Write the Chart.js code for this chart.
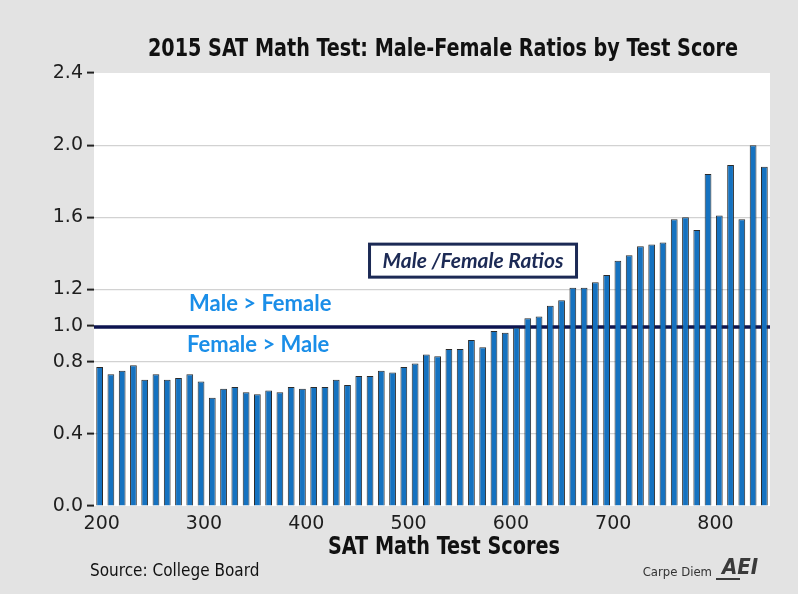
<!DOCTYPE html>
<html>
<head>
<meta charset="utf-8">
<script src="https://cdn.jsdelivr.net/npm/chart.js@4/dist/chart.umd.min.js"></script>
<style>
  html, body { margin: 0; padding: 0; background: #e3e3e3; }
  #wrap { width: 798px; height: 594px; }
</style>
</head>
<body>
<div id="wrap"><canvas id="grafico" width="798" height="594"></canvas></div>
<script>
// SAT math score buckets (one bar each)
const scores = [
  200, 210, 220, 230, 240, 250, 260, 270, 280, 290,
  300, 310, 320, 330, 340, 350, 360, 370, 380, 390,
  400, 410, 420, 430, 440, 450, 460, 470, 480, 490,
  500, 510, 520, 530, 540, 550, 560, 570, 580, 590,
  600, 610, 620, 630, 640, 650, 660, 670, 680, 690,
  700, 710, 720, 730, 740, 750, 760, 770, 780, 790
];

// male / female ratio
const ratios = [
  0.77, 0.73, 0.75, 0.78, 0.70, 0.73, 0.70, 0.71, 0.73, 0.69,
  0.60, 0.65, 0.66, 0.63, 0.62, 0.64, 0.63, 0.66, 0.65, 0.66,
  0.66, 0.70, 0.67, 0.72, 0.72, 0.75, 0.74, 0.77, 0.79, 0.84,
  0.83, 0.87, 0.87, 0.92, 0.88, 0.97, 0.96, 0.99, 1.04, 1.05,
  1.11, 1.14, 1.21, 1.21, 1.24, 1.28, 1.36, 1.39, 1.44, 1.45,
  1.46, 1.59, 1.60, 1.53, 1.84, 1.61, 1.89, 1.59, 2.00, 1.88
];

const yTicks = [0.0, 0.4, 0.8, 1.0, 1.2, 1.6, 2.0, 2.4];
const yGridLines = [0.4, 0.8, 1.2, 1.6, 2.0];
const xTicks = [200, 300, 400, 500, 600, 700, 800];
const linhaParidade = 1.0;

const corFundo = "#e3e3e3";
const corBarra = "#1572c0";
const corNavy = "#0d1450";
const corAzulTexto = "#1a8ee8";
const corTexto = "#1e1e1e";
const condensada = '"Liberation Sans Narrow", "DejaVu Sans Condensed", "Roboto", sans-serif';

/* texto comprimido para caber numa largura */
function textoAjustado(ctx, txt, cx, cy, largura) {
  const w = ctx.measureText(txt).width;
  const k = Math.min(1, largura / w);
  ctx.save();
  ctx.translate(cx, cy);
  ctx.scale(k, 1);
  ctx.fillText(txt, 0, 0);
  ctx.restore();
}

/* ======================================================
   PLUGIN: fundo cinza + area branca
   ====================================================== */
const fundoPlugin = {
  id: "fundo",
  beforeDraw(chart) {
    const { ctx, chartArea: a } = chart;
    ctx.save();
    ctx.fillStyle = corFundo;
    ctx.fillRect(0, 0, chart.width, chart.height);
    ctx.fillStyle = "#ffffff";
    ctx.fillRect(a.left, a.top, a.right - a.left, a.bottom - a.top);
    ctx.restore();
  }
};

/* ======================================================
   PLUGIN: linha 1.0 (atras das barras)
   ====================================================== */
const paridadePlugin = {
  id: "paridade",
  beforeDatasetsDraw(chart) {
    const { ctx, chartArea: a } = chart;
    const y = chart.scales.y.getPixelForValue(linhaParidade) + 1.5;
    ctx.save();
    ctx.strokeStyle = corNavy;
    ctx.lineWidth = 3.5;
    ctx.beginPath();
    ctx.moveTo(a.left, y);
    ctx.lineTo(a.right, y);
    ctx.stroke();
    ctx.restore();
  }
};

/* ======================================================
   PLUGIN: textos (titulo, rotulos, fonte)
   ====================================================== */
const textosPlugin = {
  id: "textos",
  afterDraw(chart) {
    const { ctx } = chart;
    const xs = chart.scales.xs;
    const y = chart.scales.y;

    ctx.save();
    ctx.textBaseline = "middle";

    // titulo
    ctx.fillStyle = "#111";
    ctx.textAlign = "center";
    ctx.font = "bold 24px " + condensada;
    textoAjustado(ctx, "2015 SAT Math Test: Male-Female Ratios by Test Score", 443, 50, 590);

    // titulo eixo x
    ctx.font = "bold 24px " + condensada;
    textoAjustado(ctx, "SAT Math Test Scores", 444, 548, 232);

    // fonte
    ctx.textAlign = "left";
    ctx.font = "17px " + condensada;
    ctx.fillStyle = "#111";
    ctx.fillText("Source: College Board", 90, 572);

    // carpe diem + AEI
    ctx.textAlign = "right";
    ctx.font = "13px " + condensada;
    ctx.fillStyle = "#333";
    ctx.fillText("Carpe Diem", 712, 573);
    ctx.textAlign = "left";
    ctx.font = "italic bold 22px " + condensada;
    ctx.fillStyle = "#3a3a3a";
    ctx.fillText("AEI", 722, 568);
    ctx.fillRect(716, 578, 24, 2);

    // rotulos azuis
    ctx.textAlign = "center";
    ctx.fillStyle = corAzulTexto;
    ctx.font = 'bold 22px "Lato", "DejaVu Sans", sans-serif';
    ctx.fillText("Male > Female", xs.getPixelForValue(355), y.getPixelForValue(1.12));
    ctx.fillText("Female > Male", xs.getPixelForValue(353), y.getPixelForValue(0.895));

    // caixa da legenda
    const cx = xs.getPixelForValue(563);
    const cy = y.getPixelForValue(1.36);
    const w = 207, h = 33;
    ctx.fillStyle = "#ffffff";
    ctx.fillRect(cx - w / 2, cy - h / 2, w, h);
    ctx.strokeStyle = "#1c2a55";
    ctx.lineWidth = 3;
    ctx.strokeRect(cx - w / 2, cy - h / 2, w, h);
    ctx.fillStyle = "#1c2a55";
    ctx.font = 'italic bold 21px "Lato", "DejaVu Sans", sans-serif';
    ctx.fillText("Male /Female Ratios", cx, cy + 1);

    ctx.restore();
  }
};

/* ======================================================
   GRAFICO
   ====================================================== */
new Chart(document.getElementById("grafico").getContext("2d"), {
  type: "bar",
  data: {
    labels: scores,
    datasets: [{
      label: "Male/Female Ratio",
      data: ratios,
      backgroundColor: corBarra,
      borderColor: "#2b2b2b",
      borderWidth: 1,
      barPercentage: 0.6,
      categoryPercentage: 1.0,
      xAxisID: "x",
      yAxisID: "y"
    }]
  },
  options: {
    responsive: false,
    devicePixelRatio: 1,
    animation: false,
    layout: { padding: { left: 0, right: 28, top: 73, bottom: 0 } },
    plugins: {
      legend: { display: false },
      tooltip: { enabled: false },
      title: { display: false }
    },
    scales: {
      x: {
        type: "category",
        display: false,
        offset: true
      },
      xs: {
        type: "linear",
        position: "bottom",
        offset: false,
        min: 192.5,
        max: 853.3,
        afterBuildTicks: s => { s.ticks = xTicks.map(v => ({ value: v })); },
        afterFit: s => { s.height = 88; },
        grid: { display: false, drawTicks: false, offset: false },
        border: { display: false },
        ticks: {
          color: corTexto,
          padding: 7,
          maxRotation: 0,
          font: { family: "DejaVu Sans", size: 19 }
        }
      },
      y: {
        min: 0,
        max: 2.4,
        afterBuildTicks: s => { s.ticks = yTicks.map(v => ({ value: v })); },
        afterFit: s => { s.width = 94; },
        grid: {
          color: c => (c.tick && yGridLines.includes(c.tick.value)) ? "#d2d2d2" : "rgba(0,0,0,0)",
          lineWidth: 1.2,
          tickColor: "#222",
          tickLength: 7,
          tickWidth: 2
        },
        border: { display: false },
        ticks: {
          color: corTexto,
          padding: 4,
          font: { family: "DejaVu Sans", size: 19 },
          callback: v => Number(v).toFixed(1)
        }
      }
    }
  },
  plugins: [fundoPlugin, paridadePlugin, textosPlugin]
});
</script>
</body>
</html>
